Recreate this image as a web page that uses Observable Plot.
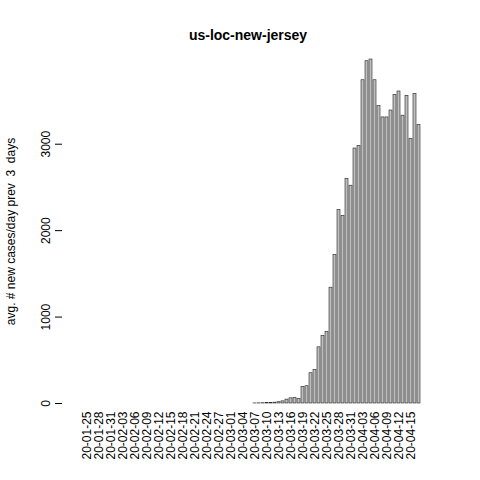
<!DOCTYPE html>
<html><head><meta charset="utf-8">
<script src="https://cdn.jsdelivr.net/npm/d3@7"></script>
<script src="https://cdn.jsdelivr.net/npm/@observablehq/plot@0.6"></script>
<style>body{margin:0;background:#fff}svg text{white-space:pre}</style>
</head><body><div id="chart"></div>
<script>
const startDate = "2020-01-25";
const title = "us-loc-new-jersey";
const yLabel = "avg. # new cases/day prev  3  days";
// values from 20-01-25 to 20-04-17, one per day
const cases = [
  0,0,0,0,0,0,0, 0,0,0,0,0,0,0, 0,0,0,0,0,0,0, 0,0,0,0,0,0,0,
  0,0,0,0,0,0,0, 0,0,0,0,0,0,0, 1,2,3,5,8,10,
  15,25,45,60,65,50,
  190,200,350,390,650,780,830,1340,1720,2240,2170,2600,2520,2950,2980,
  3740,3960,3980,3740,3440,3310,3310,3390,3570,3610,3330,3560,3060,3580,3220
];
const fmt = d3.utcFormat("%y-%m-%d");
const days = cases.map((v, i) => fmt(d3.utcDay.offset(new Date(startDate), i)));
const data = days.map((d, i) => ({day: d, value: cases[i]}));
const tickDays = days.filter((d, i) => i % 3 === 0);

const chart = Plot.plot({
  width: 480, height: 480,
  marginTop: 59, marginBottom: 77, marginLeft: 62, marginRight: 47,
  style: {fontFamily: "Liberation Sans, Arial, sans-serif", fontSize: "12px"},
  x: {domain: days, range: [73, 433], paddingInner: 0.17, paddingOuter: 0},
  y: {domain: [0, 3980]},
  marks: [
    Plot.barY(data, {x: "day", y: "value", fill: "#bebebe", stroke: "#222", strokeWidth: 0.6}),
    Plot.axisX({ticks: tickDays, tickSize: 0, tickRotate: -90, tickPadding: 8, label: null, fontSize: 12}),
    Plot.axisY({ticks: [0, 1000, 2000, 3000], tickFormat: d3.format("d"), tickSize: 7, tickRotate: -90, tickPadding: 6,
      label: yLabel, labelAnchor: "center", labelArrow: "none", labelOffset: 56, fontSize: 12}),
    Plot.ruleX([0], {y1: 0, y2: 3000, frameAnchor: "left"}),
    Plot.text([title], {frameAnchor: "top", dy: -29, fontWeight: "bold", fontSize: 14, fill: "black"})
  ]
});
document.getElementById("chart").append(chart);
</script></body></html>
